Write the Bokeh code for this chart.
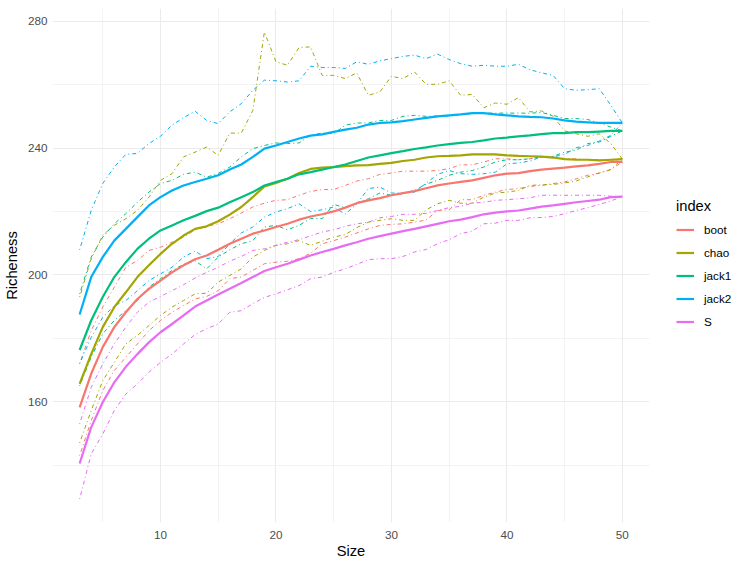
from bokeh.plotting import figure
from bokeh.models import Range1d, FixedTicker, Legend, LegendItem
from bokeh.embed import file_html
from bokeh.resources import INLINE

size = list(range(3, 51))

boot_mean = [158.2, 168.8, 177.2, 183.5, 188.2, 192.4, 195.6, 198.2, 200.8, 203.0, 204.9, 206.1,
             207.9, 209.8, 211.4, 213.0, 214.0, 215.1, 216.1, 217.4, 218.4, 219.1, 220.0, 221.2,
             222.6, 223.5, 224.2, 225.1, 225.8, 226.4, 227.3, 228.2, 228.8, 229.3, 229.8, 230.6,
             231.4, 231.9, 232.1, 232.7, 233.2, 233.5, 233.8, 234.2, 234.5, 235.0, 235.6, 235.6]
boot_upper = [172.0, 182.4, 189.8, 196.1, 202.4, 204.5, 207.7, 208.7, 210.3, 211.9, 214.2, 215.3,
              216.1, 217.7, 219.5, 221.4, 222.6, 223.5, 223.7, 225.1, 226.3, 226.9, 226.9, 228.2,
              229.6, 230.3, 231.7, 232.1, 232.7, 232.7, 232.7, 232.9, 233.5, 234.7, 234.7, 235.6,
              236.6, 236.6, 236.3, 236.6, 237.1, 237.2, 236.6, 236.6, 236.3, 236.3, 236.1, 235.6]
boot_lower = [143.0, 154.0, 163.5, 169.8, 174.0, 178.2, 182.4, 185.6, 188.2, 190.3, 192.4, 193.2,
              195.0, 198.8, 199.3, 201.4, 203.5, 204.0, 204.3, 205.1, 206.8, 209.8, 210.8, 211.9,
              213.2, 214.5, 215.6, 215.9, 216.1, 216.6, 217.3, 220.3, 220.5, 223.7, 223.7, 225.1,
              226.1, 226.9, 227.2, 227.9, 228.2, 228.8, 229.3, 230.3, 231.4, 232.1, 233.2, 235.6]

chao_mean = [165.6, 175.0, 183.5, 189.8, 194.5, 199.3, 203.0, 206.6, 209.8, 212.4, 214.5, 215.3,
             216.9, 219.0, 221.4, 224.5, 227.9, 229.0, 230.3, 232.1, 233.4, 233.8, 234.0, 234.3,
             234.5, 234.6, 235.0, 235.3, 235.9, 236.3, 237.0, 237.4, 237.5, 237.7, 238.0, 238.0,
             238.0, 237.7, 237.5, 237.4, 237.3, 237.0, 236.5, 236.3, 236.3, 236.1, 236.3, 236.5]
chao_upper = [193.0, 205.0, 212.5, 215.6, 217.7, 220.3, 224.5, 229.8, 231.9, 237.2, 238.7, 240.3,
              237.7, 244.7, 244.7, 251.9, 276.6, 267.2, 266.1, 271.7, 271.9, 262.9, 262.9, 261.9,
              263.7, 256.6, 257.7, 262.6, 261.9, 264.0, 260.1, 260.1, 261.2, 256.6, 256.9, 252.7,
              254.2, 253.8, 255.9, 251.4, 251.7, 250.0, 245.4, 244.5, 243.7, 244.5, 241.4, 236.5]
chao_lower = [147.0, 157.2, 166.6, 172.4, 178.2, 180.9, 184.0, 187.2, 189.8, 191.9, 194.0, 194.2,
              197.7, 199.8, 201.9, 205.6, 207.7, 209.3, 209.8, 210.8, 209.3, 210.6, 211.9, 212.7,
              214.9, 216.6, 217.2, 217.7, 217.2, 217.2, 220.5, 222.4, 223.5, 222.6, 222.6, 224.5,
              225.8, 226.1, 226.6, 228.2, 228.4, 228.5, 229.0, 229.6, 230.9, 232.1, 233.2, 236.5]

jack1_mean = [176.3, 185.6, 193.0, 199.3, 204.0, 208.2, 211.4, 214.0, 215.6, 217.2, 218.6, 220.1,
              221.2, 222.9, 224.5, 226.1, 228.2, 229.3, 230.3, 231.7, 232.4, 233.2, 234.0, 234.8,
              235.9, 237.0, 237.7, 238.4, 239.0, 239.7, 240.2, 240.8, 241.2, 241.6, 241.9, 242.4,
              243.0, 243.3, 243.7, 244.0, 244.4, 244.7, 244.7, 245.0, 245.0, 245.2, 245.4, 245.4]
jack1_upper = [194.0, 205.6, 211.9, 216.1, 219.3, 222.9, 226.1, 228.8, 229.8, 231.7, 232.4, 230.8,
               232.0, 234.0, 237.2, 239.8, 240.8, 241.6, 241.4, 241.6, 244.1, 244.7, 244.5, 247.2,
               247.9, 247.9, 248.7, 248.7, 250.0, 250.3, 250.0, 250.1, 250.1, 250.6, 250.8, 251.0,
               251.0, 251.0, 251.0, 251.0, 251.2, 250.3, 249.3, 249.3, 249.0, 247.9, 246.6, 245.4]
jack1_lower = [165.0, 174.0, 181.4, 185.6, 188.7, 191.9, 196.1, 198.8, 201.4, 203.3, 204.4, 201.9,
               205.6, 207.9, 209.8, 210.8, 215.1, 215.6, 214.2, 215.6, 217.8, 217.7, 222.2, 221.2,
               222.6, 224.0, 225.8, 225.1, 225.6, 226.6, 228.6, 229.8, 231.4, 232.4, 232.9, 234.0,
               235.6, 236.3, 236.3, 236.6, 237.3, 237.4, 238.7, 239.3, 241.4, 241.9, 243.7, 245.4]

jack2_mean = [187.5, 199.3, 205.6, 210.8, 214.5, 218.2, 221.9, 224.5, 226.6, 228.2, 229.3, 230.3,
              231.4, 233.2, 234.8, 237.2, 239.8, 240.8, 241.9, 243.0, 243.9, 244.3, 245.1, 245.8,
              246.4, 247.4, 247.9, 248.1, 248.5, 249.0, 249.5, 250.0, 250.3, 250.6, 251.0, 251.0,
              250.6, 250.3, 250.0, 249.8, 249.7, 249.3, 248.7, 248.3, 248.1, 247.9, 247.9, 247.9]
jack2_upper = [207.9, 220.3, 228.8, 234.0, 238.0, 238.3, 241.4, 243.7, 247.2, 249.6, 251.6, 248.7,
               247.7, 251.4, 254.0, 258.2, 261.4, 261.2, 260.8, 261.2, 265.8, 265.4, 265.4, 265.1,
               267.2, 266.4, 267.5, 268.2, 268.9, 269.3, 268.2, 269.6, 267.9, 266.6, 265.8, 266.1,
               265.8, 265.8, 266.4, 264.7, 263.7, 262.9, 258.7, 258.2, 258.4, 258.7, 253.5, 247.9]
jack2_lower = [172.0, 180.3, 186.6, 190.3, 191.9, 195.0, 198.2, 200.3, 202.4, 205.6, 207.5, 205.1,
               205.8, 209.8, 213.2, 215.1, 218.2, 219.8, 220.9, 222.4, 220.0, 220.5, 221.4, 219.1,
               222.4, 227.2, 227.7, 225.8, 225.8, 226.1, 228.9, 231.7, 232.9, 231.9, 231.7, 231.9,
               232.4, 235.0, 235.3, 235.9, 237.2, 237.2, 238.0, 240.1, 240.8, 242.2, 244.0, 247.9]

S_mean = [140.5, 151.9, 159.8, 166.1, 171.0, 175.0, 178.7, 181.9, 184.5, 187.2, 190.0, 191.9,
          193.8, 195.6, 197.4, 199.3, 201.2, 202.4, 203.5, 204.8, 206.1, 207.2, 208.2, 209.3,
          210.3, 211.4, 212.2, 213.0, 213.8, 214.5, 215.3, 216.1, 216.9, 217.4, 218.2, 219.1,
          219.6, 220.0, 220.3, 220.9, 221.5, 221.9, 222.4, 222.9, 223.3, 223.7, 224.5, 224.7]
S_upper = [153.0, 164.5, 171.9, 178.2, 183.5, 188.2, 191.4, 193.2, 195.0, 196.9, 199.0, 200.8,
           202.4, 204.3, 205.8, 207.7, 208.2, 209.3, 210.3, 211.1, 212.3, 213.5, 214.2, 215.3,
           216.1, 216.6, 218.0, 218.4, 219.1, 219.1, 219.4, 220.3, 221.2, 221.6, 222.6, 222.9,
           223.5, 223.7, 224.0, 224.3, 225.1, 225.1, 225.1, 225.1, 225.1, 225.1, 224.8, 224.7]
S_lower = [129.3, 143.5, 149.8, 157.2, 162.4, 165.6, 169.3, 172.4, 175.0, 178.2, 181.2, 183.0,
           184.5, 188.2, 188.7, 190.9, 192.9, 194.0, 195.3, 196.6, 198.8, 199.3, 200.8, 201.9,
           203.3, 204.8, 205.1, 205.1, 205.8, 207.2, 208.0, 209.8, 211.1, 213.0, 213.8, 216.1,
           216.3, 217.2, 217.2, 218.0, 218.1, 218.4, 219.3, 220.3, 221.2, 222.2, 223.3, 224.7]

index_names = ["boot", "chao", "jack1", "jack2", "S"]
index_colors = ["#F8766D", "#A3A500", "#00BF7D", "#00B0F6", "#E76BF3"]
means = [boot_mean, chao_mean, jack1_mean, jack2_mean, S_mean]
uppers = [boot_upper, chao_upper, jack1_upper, jack2_upper, S_upper]
lowers = [boot_lower, chao_lower, jack1_lower, jack2_lower, S_lower]

x_ticks = [10, 20, 30, 40, 50]
x_minor = [5, 15, 25, 35, 45]
y_ticks = [160, 200, 240, 280]
y_minor = [140, 180, 220, 260]

FONT = "Liberation Sans"

p = figure(frame_width=597, frame_height=514, output_backend="svg", toolbar_location=None,
           x_range=Range1d(0.65, 52.35), y_range=Range1d(121.9, 284.0),
           min_border_left=45, min_border_right=0, min_border_top=8, min_border_bottom=38)
p.outline_line_color = None
p.background_fill_color = "white"
p.border_fill_color = "white"

xt = FixedTicker(ticks=x_ticks, minor_ticks=x_minor)
yt = FixedTicker(ticks=y_ticks, minor_ticks=y_minor)
p.xaxis.ticker = xt
p.yaxis.ticker = yt
p.xgrid.ticker = xt
p.ygrid.ticker = yt

for g in (p.xgrid, p.ygrid):
    g.grid_line_color = "#EBEBEB"
    g.grid_line_width = 1.1
    g.minor_grid_line_color = "#EBEBEB"
    g.minor_grid_line_width = 0.6

for ax in (p.xaxis, p.yaxis):
    ax.axis_line_color = None
    ax.major_tick_line_color = None
    ax.minor_tick_line_color = None
    ax.major_tick_out = 0
    ax.major_tick_in = 0
    ax.minor_tick_out = 0
    ax.minor_tick_in = 0
    ax.major_label_text_color = "#4D4D4D"
    ax.major_label_text_font = FONT
    ax.major_label_text_font_size = "11.7px"
    ax.axis_label_text_font = FONT
    ax.axis_label_text_font_size = "14.7px"
    ax.axis_label_text_font_style = "normal"
    ax.axis_label_text_color = "black"

p.xaxis.axis_label = "Size"
p.yaxis.axis_label = "Richeness"
p.xaxis.major_label_standoff = 8
p.xaxis.axis_label_standoff = 1
p.yaxis.major_label_standoff = 5
p.yaxis.axis_label_standoff = 5

for col, up, lo in zip(index_colors, uppers, lowers):
    p.line(size, up, line_color=col, line_width=1.0, line_dash="1 3 4 3")
    p.line(size, lo, line_color=col, line_width=1.0, line_dash="1 3 4 3")

items = []
for name, col, m in zip(index_names, index_colors, means):
    r = p.line(size, m, line_color=col, line_width=2.2)
    items.append(LegendItem(label=name, renderers=[r]))

legend = Legend(items=items, title="index", location=(27, 189))
legend.title_text_font = FONT
legend.title_text_font_size = "14.7px"
legend.title_text_font_style = "normal"
legend.title_text_color = "black"
legend.title_standoff = 4
legend.label_text_font = FONT
legend.label_text_font_size = "11.7px"
legend.label_text_color = "black"
legend.glyph_width = 18
legend.glyph_height = 23
legend.label_height = 23
legend.label_standoff = 10
legend.spacing = 0
legend.padding = 0
legend.margin = 0
legend.border_line_color = None
legend.background_fill_alpha = 0
p.add_layout(legend, "right")

open("out.html", "w").write(file_html(p, INLINE))
